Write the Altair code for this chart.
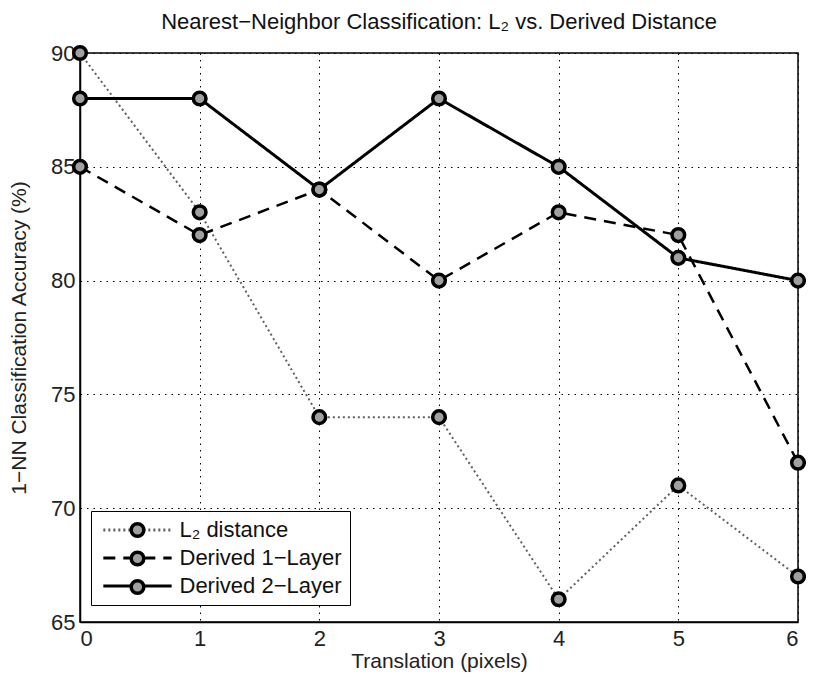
import altair as alt
import pandas as pd

# ---- data ----
translation = [0, 1, 2, 3, 4, 5, 6]
l2_distance = [90, 83, 74, 74, 66, 71, 67]
derived_1 = [85, 82, 84, 80, 83, 82, 72]
derived_2 = [88, 88, 84, 88, 85, 81, 80]
series_names = ["L\u2082 distance", "Derived 1\u2212Layer", "Derived 2\u2212Layer"]
x_ticks = [0, 1, 2, 3, 4, 5, 6]
y_ticks = [65, 70, 75, 80, 85, 90]

rows = []
for name, vals in zip(series_names, [l2_distance, derived_1, derived_2]):
    for xv, yv in zip(translation, vals):
        rows.append({"x": xv, "y": yv, "series": name, "series_pt": name + " "})
df = pd.DataFrame(rows)

FONT = "Liberation Sans"
W, H = 718, 569
MARK_SIZE = 160
MARK_STROKE = 3.5
LINE_PATH = "M-5.4,0H5.4"

x_enc = alt.X(
    "x:Q",
    scale=alt.Scale(domain=[0, 6], nice=False, zero=False),
    axis=alt.Axis(values=x_ticks, title="Translation (pixels)", format="d"),
)
y_enc = alt.Y(
    "y:Q",
    scale=alt.Scale(domain=[65, 90], nice=False, zero=False),
    axis=alt.Axis(values=y_ticks, title="1\u2212NN Classification Accuracy (%)", format="d"),
)

legend_common = dict(
    orient="none",
    legendX=11,
    legendY=458,
    title=None,
    labelFont=FONT,
    labelFontSize=22,
    labelLimit=400,
    padding=8,
    labelOffset=31,
    symbolOffset=27.5,
    symbolSize=MARK_SIZE,
)

line_legend = alt.Legend(
    symbolType=LINE_PATH,
    symbolStrokeWidth=3,
    fillColor="white",
    strokeColor="black",
    labelColor="#111111",
    rowPadding=6,
    **legend_common,
)

lines = alt.Chart(df).mark_line(clip=False).encode(
    x=x_enc,
    y=y_enc,
    color=alt.Color(
        "series:N",
        scale=alt.Scale(domain=series_names, range=["#606060", "black", "black"]),
        legend=line_legend,
    ),
    strokeDash=alt.StrokeDash(
        "series:N",
        scale=alt.Scale(domain=series_names, range=[[2, 3], [12, 8], [1, 0]]),
        legend=line_legend,
    ),
    strokeWidth=alt.StrokeWidth(
        "series:N",
        scale=alt.Scale(domain=series_names, range=[2, 3, 3]),
        legend=None,
    ),
)

points = alt.Chart(df).mark_point(
    shape="circle", filled=True, size=MARK_SIZE, stroke="black",
    strokeWidth=MARK_STROKE, opacity=1, clip=False
).encode(
    x=x_enc,
    y=y_enc,
    fill=alt.Fill(
        "series_pt:N",
        scale=alt.Scale(domain=[s + " " for s in series_names], range=["#a0a0a0"] * 3),
        legend=alt.Legend(
            symbolType="circle",
            symbolStrokeColor="black",
            symbolStrokeWidth=MARK_STROKE,
            symbolFillColor="#a0a0a0",
            labelOpacity=0,
            rowPadding=0.5,
            **legend_common,
        ),
    ),
)

chart = (
    alt.layer(lines, points)
    .resolve_scale(color="independent", fill="independent", strokeDash="independent")
    .properties(
        width=W,
        height=H,
        title=alt.TitleParams(
            "Nearest\u2212Neighbor Classification: L\u2082 vs. Derived Distance",
            font=FONT,
            fontSize=22,
            fontWeight="normal",
            color="#111111",
            offset=6,
            anchor="middle",
        ),
        autosize=alt.AutoSizeParams(type="none"),
        padding={"left": 72, "top": 45, "right": 8, "bottom": 52},
    )
    .configure_view(stroke="black", strokeWidth=1.5)
    .configure_axis(
        grid=True,
        gridColor="black",
        gridDash=[1.5, 5],
        gridWidth=1,
        gridOpacity=1,
        domainColor="black",
        domainWidth=1.5,
        ticks=False,
        labelFont=FONT,
        labelFontSize=22,
        labelColor="#222222",
        titleFont=FONT,
        titleFontSize=21,
        titleFontWeight="normal",
        titleColor="#222222",
    )
    .configure_axisX(labelPadding=6, titlePadding=1)
    .configure_axisY(labelPadding=5, titlePadding=21)
)

chart.save("out.html", embed_options={"renderer": "svg", "actions": False})
